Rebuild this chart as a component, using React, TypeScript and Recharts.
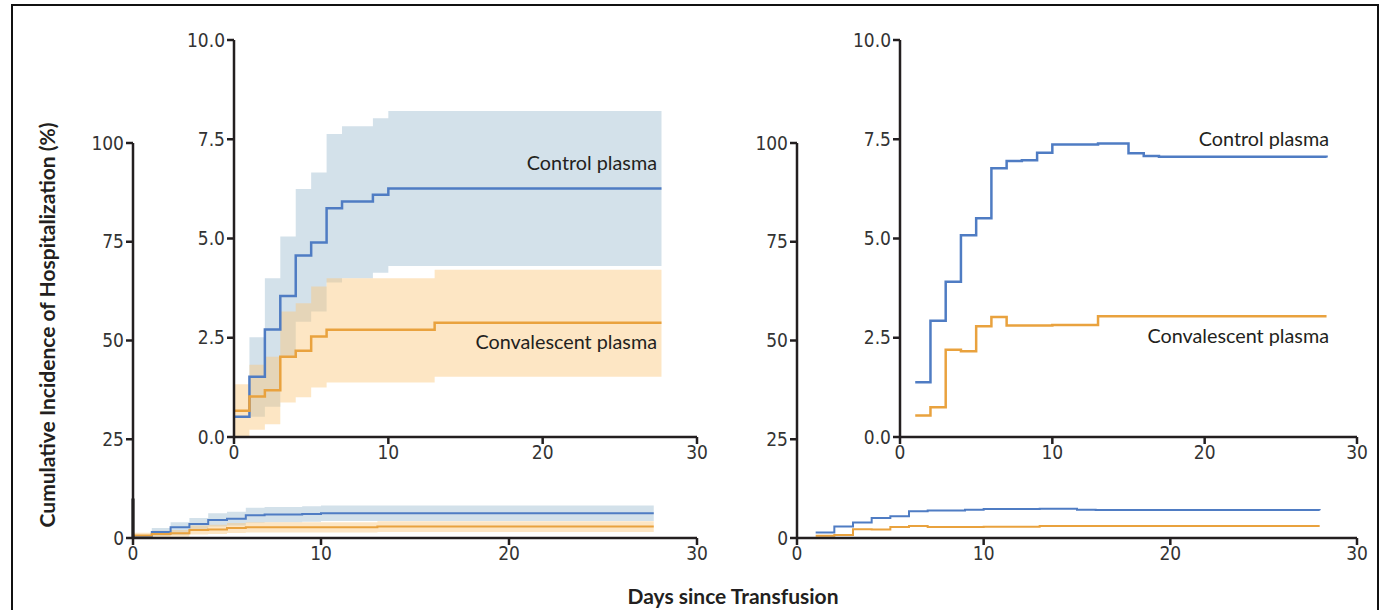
import { ComposedChart, Line, Area, XAxis, YAxis, ReferenceLine } from 'recharts'

// left panel (with 95% bands), days since transfusion
const leftDays = [0, 1, 2, 3, 4, 5, 6, 7, 9, 10, 13, 27.7]
const controlLeft = [0.51, 1.52, 2.71, 3.55, 4.57, 4.9, 5.76, 5.93, 6.1, 6.26, 6.26, 6.26]
const convLeft = [0.66, 1.02, 1.18, 2.02, 2.17, 2.53, 2.7, 2.7, 2.7, 2.7, 2.88, 2.88]
const controlLow = [null, 0.51, 0.76, 2.02, 2.9, 3.16, 3.89, 4.0, 4.14, 4.31, 4.31, 4.31]
const controlHigh = [null, 2.51, 4.0, 5.05, 6.25, 6.66, 7.63, 7.83, 8.03, 8.21, 8.21, 8.21]
const convLow = [0, 0.18, 0.32, 0.87, 1.0, 1.25, 1.37, 1.37, 1.37, 1.37, 1.52, 1.52]
const convHigh = [1.33, 1.82, 2.02, 3.16, 3.37, 3.79, 4.0, 4.0, 4.0, 4.0, 4.21, 4.21]

// right panel (lines only)
const rightDays = [1, 2, 3, 4, 5, 6, 7, 8, 9, 10, 13, 15, 16, 17, 28]
const controlRight = [1.38, 2.93, 3.91, 5.08, 5.51, 6.77, 6.95, 6.97, 7.16, 7.37, 7.39, 7.15, 7.08, 7.06, 7.04]
const convRight = [0.54, 0.75, 2.2, 2.16, 2.79, 3.02, 2.81, 2.81, 2.81, 2.82, 3.04, 3.04, 3.04, 3.04, 3.04]

const xTicks = [0, 10, 20, 30]
const outerTicks = [0, 25, 50, 75, 100]
const insetTicks = [0, 2.5, 5, 7.5, 10]

const BLUE = '#4f7cc3'
const ORANGE = '#e9a23e'
const BLUE_BAND = '#d3e1ea'
const ORANGE_BAND = '#fac77c'
const AXIS = '#231f20'
const TICK_STYLE = {
  fontSize: 19,
  fill: '#333',
  fontFamily: '"Liberation Sans Narrow", "DejaVu Sans Condensed", sans-serif',
}
const LABEL_FONT = 'Lato, "Open Sans", sans-serif'

const leftData = leftDays.map((day, i) => ({
  day,
  control: controlLeft[i],
  conv: convLeft[i],
  controlBand: controlLow[i] == null ? null : [controlLow[i], controlHigh[i]],
  convBand: [convLow[i], convHigh[i]],
}))

const rightData = rightDays.map((day, i) => ({
  day,
  control: controlRight[i],
  conv: convRight[i],
}))

interface ChartProps {
  data: any[]
  left: number
  width: number
  height: number
  margin: { top: number; right: number; bottom: number; left: number }
  yMax: number
  yTicks: number[]
  fmt: (v: number) => string
  lineWidth: number
  bands?: boolean
  stub?: boolean
}

function KMChart({ data, left, width, height, margin, yMax, yTicks, fmt, lineWidth, bands, stub }: ChartProps) {
  return (
    <div style={{ position: 'absolute', left, top: 0, width, height }}>
      <ComposedChart width={width} height={height} data={data} margin={margin}>
        <XAxis
          dataKey="day"
          type="number"
          domain={[0, 30]}
          ticks={xTicks}
          height={30}
          tick={TICK_STYLE}
          tickSize={7}
          axisLine={{ stroke: AXIS, strokeWidth: 2.5 }}
          tickLine={{ stroke: AXIS, strokeWidth: 2.5 }}
        />
        <YAxis
          type="number"
          domain={[0, yMax]}
          ticks={yTicks}
          width={60}
          tick={TICK_STYLE}
          tickSize={7}
          tickFormatter={fmt}
          axisLine={{ stroke: AXIS, strokeWidth: 2.5 }}
          tickLine={{ stroke: AXIS, strokeWidth: 2.5 }}
        />
        {bands && (
          <Area
            type="stepAfter"
            dataKey="controlBand"
            stroke="none"
            fill={BLUE_BAND}
            fillOpacity={1}
            isAnimationActive={false}
          />
        )}
        {bands && (
          <Area
            type="stepAfter"
            dataKey="convBand"
            stroke="none"
            fill={ORANGE_BAND}
            fillOpacity={0.45}
            isAnimationActive={false}
          />
        )}
        <Line
          type="stepAfter"
          dataKey="control"
          stroke={BLUE}
          strokeWidth={lineWidth}
          dot={false}
          isAnimationActive={false}
        />
        <Line
          type="stepAfter"
          dataKey="conv"
          stroke={ORANGE}
          strokeWidth={lineWidth}
          dot={false}
          isAnimationActive={false}
        />
        {stub && (
          <ReferenceLine
            segment={[{ x: 0, y: 0 }, { x: 0, y: 10 }]}
            stroke="#000"
            strokeWidth={3}
            ifOverflow="visible"
          />
        )}
      </ComposedChart>
    </div>
  )
}

const whole = (v: number) => String(v)
const oneDec = (v: number) => v.toFixed(1)

export default function App() {
  return (
    <div style={{ position: 'absolute', left: 0, top: 0, width: 1384, height: 610, background: '#fff', overflow: 'hidden' }}>
      <div
        style={{
          position: 'absolute', left: 11, top: 4, width: 1368, height: 640,
          boxSizing: 'border-box', border: '2.5px solid #111',
        }}
      />
      {/* left panel */}
      <KMChart data={leftData} left={0} width={740} height={600}
        margin={{ top: 143, right: 43, bottom: 32, left: 73 }}
        yMax={100} yTicks={outerTicks} fmt={whole} lineWidth={2} bands stub />
      <KMChart data={leftData} left={0} width={740} height={500}
        margin={{ top: 40, right: 43, bottom: 33, left: 174 }}
        yMax={10} yTicks={insetTicks} fmt={oneDec} lineWidth={2.5} bands />
      {/* right panel */}
      <KMChart data={rightData} left={700} width={684} height={600}
        margin={{ top: 143, right: 27, bottom: 32, left: 37 }}
        yMax={100} yTicks={outerTicks} fmt={whole} lineWidth={2} />
      <KMChart data={rightData} left={700} width={684} height={500}
        margin={{ top: 40, right: 27, bottom: 33, left: 140 }}
        yMax={10} yTicks={insetTicks} fmt={oneDec} lineWidth={2.5} />

      <svg width={1384} height={610} style={{ position: 'absolute', left: 0, top: 0, pointerEvents: 'none' }}>
        <g fontFamily={LABEL_FONT} fontSize={19.8} fill="#231f20" textAnchor="end">
          <text x={657} y={170}>Control plasma</text>
          <text x={657} y={349}>Convalescent plasma</text>
          <text x={1329} y={146}>Control plasma</text>
          <text x={1329} y={343}>Convalescent plasma</text>
        </g>
        <text
          x={0} y={0}
          transform="translate(55 325) rotate(-90)"
          textAnchor="middle"
          fontFamily={LABEL_FONT}
          fontWeight="bold"
          fontSize={21}
          fill="#231f20"
        >
          Cumulative Incidence of Hospitalization (%)
        </text>
        <text x={733} y={604} textAnchor="middle" fontFamily={LABEL_FONT} fontWeight="bold" fontSize={21} fill="#231f20">
          Days since Transfusion
        </text>
      </svg>
    </div>
  )
}
